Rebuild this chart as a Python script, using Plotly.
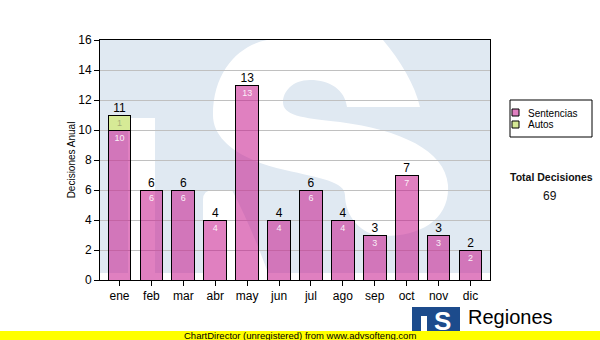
import plotly.graph_objects as go

meses = ["ene", "feb", "mar", "abr", "may", "jun", "jul", "ago", "sep", "oct", "nov", "dic"]
sentencias = [10, 6, 6, 4, 13, 4, 6, 4, 3, 7, 3, 2]
autos = [1, 0, 0, 0, 0, 0, 0, 0, 0, 0, 0, 0]
totales = [s + a for s, a in zip(sentencias, autos)]
total_decisiones = sum(totales)
y_ticks = [0, 2, 4, 6, 8, 10, 12, 14, 16]
series_names = ["Sentencias", "Autos"]

W, H = 600, 340
L, R, T, B = 100, 110, 40, 60
PW = W - L - R
PH = H - T - B
FONT = "Liberation Sans, Arial, sans-serif"

PINK = "rgba(199,24,140,0.55)"
GREEN = "rgb(214,234,150)"


def px(x):
    return (x - L) / PW


def py(y):
    return (H - B - y) / PH


def make_path(cmds):
    out = []
    for c, pts in cmds:
        out.append(c + " " + " ".join(f"{px(x):.4f},{py(y):.4f}" for x, y in pts))
    return " ".join(out) + " Z"


def prect(x0, y0, x1, y1, fill, layer="above", line=None):
    return dict(type="rect", xref="paper", yref="paper", x0=px(x0), x1=px(x1), y0=py(y1), y1=py(y0),
                fillcolor=fill, line=line or dict(width=0), layer=layer)


WM = "#e0e9f2"
shapes = [
    prect(100, 40, 490, 273, WM, "below"),
    prect(128, 118, 155, 273, "white", "below"),
    dict(type="path", xref="paper", yref="paper", fillcolor="white", line=dict(width=0), layer="below",
         path=make_path([
             ("M", [(267, 40)]), ("L", [(383, 40)]),
             ("C", [(400, 60), (415, 85), (420, 107)]),
             ("L", [(347, 107)]),
             ("C", [(345, 90), (330, 80), (310, 80)]),
             ("C", [(292, 80), (283, 92), (283, 102)]),
             ("C", [(283, 115), (300, 118), (340, 122)]),
             ("C", [(400, 130), (445, 150), (448, 185)]),
             ("C", [(450, 220), (420, 236), (385, 236)]),
             ("C", [(360, 236), (345, 215), (345, 195)]),
             ("C", [(345, 182), (320, 178), (285, 170)]),
             ("C", [(240, 160), (213, 140), (213, 115)]),
             ("C", [(213, 70), (240, 45), (267, 40)]),
         ])),
    dict(type="path", xref="paper", yref="paper", fillcolor="white", line=dict(width=0), layer="below",
         path=make_path([
             ("M", [(203, 273)]), ("L", [(203, 200)]),
             ("Q", [(203, 190), (213, 190)]),
             ("L", [(232, 190)]),
             ("C", [(245, 215), (258, 245), (268, 273)]),
         ])),
    # legend box and swatches
    prect(510, 100, 592, 137, "white", line=dict(color="black", width=1)),
    prect(512, 109, 519, 116, PINK, line=dict(color="black", width=1)),
    prect(512, 121, 519, 128, GREEN, line=dict(color="black", width=1)),
    # footer bar
    prect(0, 331, 600, 340, "#ffff00"),
    # logo
    prect(412, 307, 460, 331, "#1c4b8c"),
    prect(421, 316, 427, 331, "white"),
]

fig = go.Figure()
fig.add_trace(go.Bar(
    name=series_names[0], x=meses, y=sentencias,
    marker=dict(color=PINK, line=dict(color="black", width=1)),
    text=[str(v) if v else "" for v in sentencias], textposition="inside",
    insidetextanchor="end", textangle=0, constraintext="none",
    textfont=dict(size=9, color="rgba(255,255,255,0.9)", family=FONT),
    hoverinfo="skip", showlegend=False,
))
fig.add_trace(go.Bar(
    name=series_names[1], x=meses, y=autos,
    marker=dict(color=GREEN, line=dict(color="black", width=1)),
    text=[str(v) if v else "" for v in autos], textposition="inside",
    insidetextanchor="end", textangle=0, constraintext="none",
    textfont=dict(size=9, color="rgb(165,175,120)", family=FONT),
    hoverinfo="skip", showlegend=False,
))
fig.add_trace(go.Scatter(
    x=meses, y=totales, mode="text", text=[str(v) for v in totales],
    textposition="top center", textfont=dict(size=12, color="black", family=FONT),
    showlegend=False, hoverinfo="skip",
))


def ann(x, y, text, size, xanchor="left", color="black"):
    return dict(xref="paper", yref="paper", x=px(x), y=py(y), text=text, showarrow=False,
                font=dict(size=size, color=color, family=FONT), xanchor=xanchor, yanchor="middle")


annotations = [
    ann(526, 113, series_names[0], 10),
    ann(526, 125, series_names[1], 10),
    ann(551, 177, "<b>Total Decisiones</b>", 10.5, "center", "#111"),
    ann(550, 196, str(total_decisiones), 12, "center", "#111"),
    ann(300, 335.5, "ChartDirector (unregistered) from www.advsofteng.com", 9.5, "center"),
    ann(442, 321, "<b>S</b>", 26, "center", "white"),
    ann(466, 316.5, "Regiones", 20),
]

fig.update_layout(
    width=W, height=H,
    margin=dict(l=L, r=R, t=T, b=B, pad=0),
    paper_bgcolor="white", plot_bgcolor="white",
    barmode="stack", bargap=0.29,
    showlegend=False,
    shapes=shapes, annotations=annotations,
    font=dict(family=FONT, color="black"),
    xaxis=dict(showline=True, linecolor="black", linewidth=1, mirror=True,
               ticks="outside", ticklen=5, tickcolor="black",
               tickfont=dict(size=12, color="black"), showgrid=False, fixedrange=True),
    yaxis=dict(range=[0, 16], tickvals=y_ticks, showline=True, linecolor="black", linewidth=1, mirror=True,
               ticks="outside", ticklen=5, tickcolor="black",
               tickfont=dict(size=12, color="black"),
               showgrid=True, gridcolor="#c0c0c0", gridwidth=1, zeroline=False,
               title=dict(text="Decisiones Anual", font=dict(size=10, color="black"), standoff=0),
               fixedrange=True),
)

fig.write_html("out.html")
